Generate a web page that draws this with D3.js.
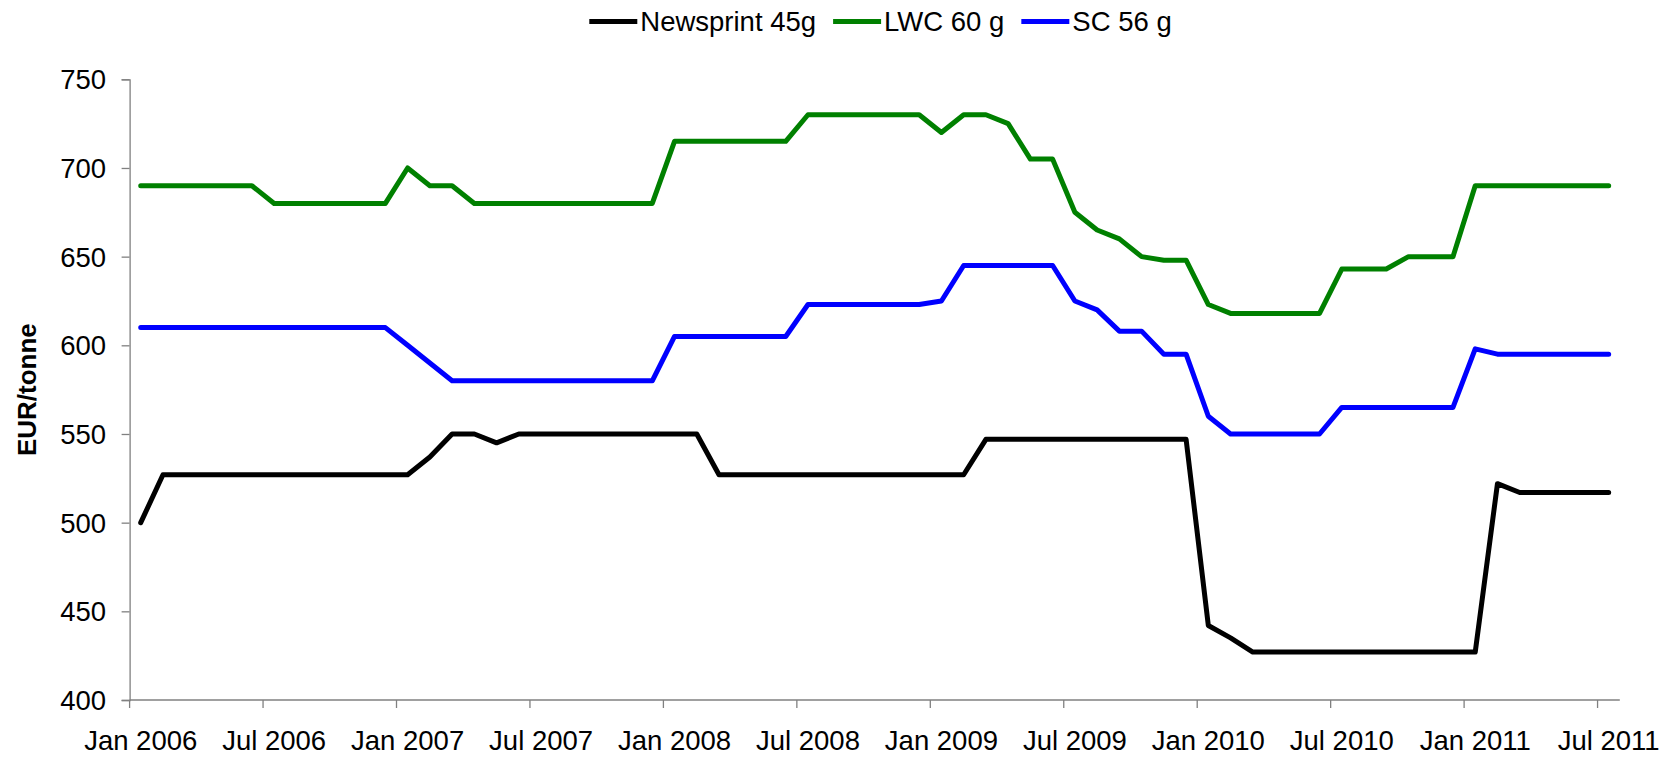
<!DOCTYPE html>
<html>
<head>
<meta charset="utf-8">
<script src="https://cdn.jsdelivr.net/npm/d3@7"></script>
<style>
  html, body { margin: 0; padding: 0; background: #fff; }
  svg { display: block; font-family: "Liberation Sans", Arial, sans-serif; }
</style>
</head>
<body>
<svg id="chart" width="1679" height="757"></svg>
<script>
// ---- data ----
const months = [
  "Jan 2006","Feb 2006","Mar 2006","Apr 2006","May 2006","Jun 2006","Jul 2006","Aug 2006","Sep 2006","Oct 2006","Nov 2006","Dec 2006",
  "Jan 2007","Feb 2007","Mar 2007","Apr 2007","May 2007","Jun 2007","Jul 2007","Aug 2007","Sep 2007","Oct 2007","Nov 2007","Dec 2007",
  "Jan 2008","Feb 2008","Mar 2008","Apr 2008","May 2008","Jun 2008","Jul 2008","Aug 2008","Sep 2008","Oct 2008","Nov 2008","Dec 2008",
  "Jan 2009","Feb 2009","Mar 2009","Apr 2009","May 2009","Jun 2009","Jul 2009","Aug 2009","Sep 2009","Oct 2009","Nov 2009","Dec 2009",
  "Jan 2010","Feb 2010","Mar 2010","Apr 2010","May 2010","Jun 2010","Jul 2010","Aug 2010","Sep 2010","Oct 2010","Nov 2010","Dec 2010",
  "Jan 2011","Feb 2011","Mar 2011","Apr 2011","May 2011","Jun 2011","Jul 2011"
];
const newsprint = [
  500,527,527,527,527,527,527,527,527,527,527,527,
  527,537,550,550,545,550,550,550,550,550,550,550,
  550,550,527,527,527,527,527,527,527,527,527,527,
  527,527,547,547,547,547,547,547,547,547,547,547,
  442,435,427,427,427,427,427,427,427,427,427,427,
  427,522,517,517,517,517,517
];
const lwc = [
  690,690,690,690,690,690,680,680,680,680,680,680,
  700,690,690,680,680,680,680,680,680,680,680,680,
  715,715,715,715,715,715,730,730,730,730,730,730,
  720,730,730,725,705,705,675,665,660,650,648,648,
  623,618,618,618,618,618,643,643,643,650,650,650,
  690,690,690,690,690,690,690
];
const sc = [
  610,610,610,610,610,610,610,610,610,610,610,610,
  600,590,580,580,580,580,580,580,580,580,580,580,
  605,605,605,605,605,605,623,623,623,623,623,623,
  625,645,645,645,645,645,625,620,608,608,595,595,
  560,550,550,550,550,550,565,565,565,565,565,565,
  598,595,595,595,595,595,595
];
const seriesNames = ["Newsprint 45g", "LWC 60 g", "SC 56 g"];
const seriesColors = ["#000000", "#008000", "#0000FF"];
const yTicks = [400, 450, 500, 550, 600, 650, 700, 750];
const xTickLabels = ["Jan 2006","Jul 2006","Jan 2007","Jul 2007","Jan 2008","Jul 2008","Jan 2009","Jul 2009","Jan 2010","Jul 2010","Jan 2011","Jul 2011"];

// ---- layout ----
const svg = d3.select("#chart");
const plotLeft = 129.6, plotRight = 1619.8, plotTop = 79.3, plotBottom = 700;
const axisColor = "#808080";
const fontSize = 27.5;

const x = d3.scaleBand().domain(months).range([plotLeft, plotRight]).paddingInner(0).paddingOuter(0);
const y = d3.scaleLinear().domain([400, 750]).range([plotBottom, plotTop]);
const bw = x.bandwidth();

// y axis
const yAxis = d3.axisLeft(y).tickValues(yTicks).tickSize(8).tickPadding(15.5).tickFormat(d3.format("d"));
const gy = svg.append("g").attr("transform", `translate(${plotLeft},0)`).call(yAxis);
gy.select(".domain").attr("stroke", axisColor).attr("stroke-width", 1.3);
gy.selectAll(".tick line").attr("stroke", axisColor).attr("stroke-width", 1.3);
gy.selectAll(".tick text").attr("font-size", fontSize).attr("fill", "#000")
  .attr("font-family", "Liberation Sans, Arial, sans-serif").attr("dy", "0.35em");

// x axis: labels at category centers, ticks at category left boundaries
const xAxis = d3.axisBottom(x).tickValues(xTickLabels).tickSize(0).tickPadding(0);
const gx = svg.append("g").attr("transform", `translate(0,${plotBottom})`).call(xAxis);
gx.select(".domain").remove();
gx.selectAll(".tick text").attr("font-size", fontSize).attr("fill", "#000")
  .attr("font-family", "Liberation Sans, Arial, sans-serif").attr("y", 50).attr("dy", 0);

svg.append("line").attr("x1", plotLeft).attr("x2", plotRight).attr("y1", plotBottom).attr("y2", plotBottom)
  .attr("stroke", axisColor).attr("stroke-width", 1.3);
svg.append("g").selectAll("line").data(xTickLabels).join("line")
  .attr("x1", d => x(d)).attr("x2", d => x(d))
  .attr("y1", plotBottom).attr("y2", plotBottom + 8)
  .attr("stroke", axisColor).attr("stroke-width", 1.3);

// y axis title
svg.append("text")
  .attr("transform", `translate(35.5,${(plotTop + plotBottom) / 2}) rotate(-90)`)
  .attr("text-anchor", "middle")
  .attr("font-size", 26).attr("font-weight", "bold")
  .text("EUR/tonne");

// lines
const allSeries = [newsprint, lwc, sc];
const line = d3.line().x((d, i) => x(months[i]) + bw / 2).y(d => y(d));
[1, 2, 0].forEach(k => {
  svg.append("path").datum(allSeries[k])
    .attr("d", line)
    .attr("fill", "none")
    .attr("stroke", seriesColors[k])
    .attr("stroke-width", 5)
    .attr("stroke-linejoin", "round")
    .attr("stroke-linecap", "round");
});

// legend
const legend = svg.append("g");
let cx = 0;
seriesNames.forEach((name, k) => {
  const g = legend.append("g").attr("transform", `translate(${cx},0)`);
  g.append("line").attr("x1", 0).attr("x2", 48).attr("y1", 0).attr("y2", 0)
    .attr("stroke", seriesColors[k]).attr("stroke-width", 5);
  const t = g.append("text").attr("x", 51).attr("y", 0).attr("dy", "0.35em")
    .attr("font-size", fontSize).text(name);
  const w = t.node().getComputedTextLength();
  cx += 51 + w + 17;
});
const totalW = cx - 17;
legend.attr("transform", `translate(${880.5 - totalW / 2},21.5)`);
</script>
</body>
</html>
